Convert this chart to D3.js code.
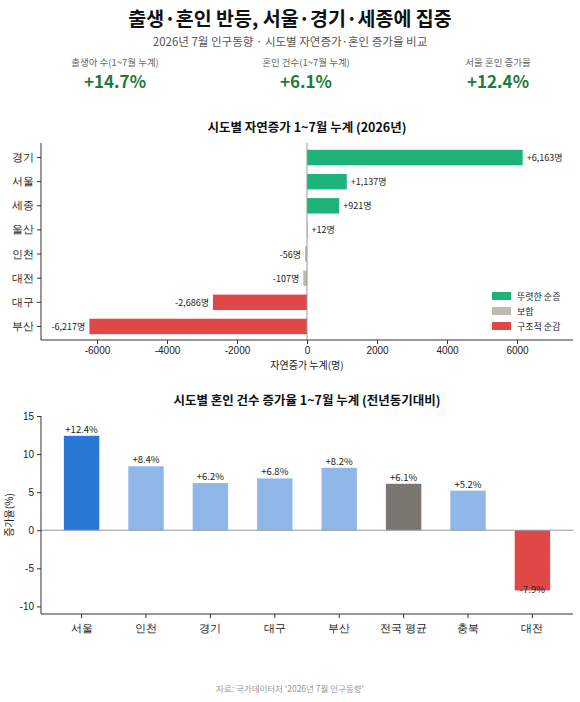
<!DOCTYPE html><html><head><meta charset="utf-8"><script src="https://cdn.jsdelivr.net/npm/d3@7"></script>
<style>body{margin:0;background:#fff;font-family:"Noto Sans CJK KR","Noto Sans",sans-serif}</style></head><body><svg id="c" width="580" height="702"></svg>
<script>
const regions1=["경기","서울","세종","울산","인천","대전","대구","부산"];
const natural=[6163,1137,921,12,-56,-107,-2686,-6217];
const natClass=["g","g","g","g","n","n","r","r"];
const natLabels=["+6,163명","+1,137명","+921명","+12명","-56명","-107명","-2,686명","-6,217명"];
const xTicks=[-6000,-4000,-2000,0,2000,4000,6000];
const regions2=["서울","인천","경기","대구","부산","전국 평균","충북","대전"];
const marriage=[12.4,8.4,6.2,6.8,8.2,6.1,5.2,-7.9];
const mClass=["s","l","l","l","l","a","l","d"];
const yTicks=[-10,-5,0,5,10,15];
const kpiLabels=["출생아 수(1~7월 누계)","혼인 건수(1~7월 누계)","서울 혼인 증가율"];
const kpiValues=["+14.7%","+6.1%","+12.4%"];
const legendItems=[["g","뚜렷한 순증"],["n","보합"],["r","구조적 순감"]];

const c1={g:"#1db37a",n:"#bdbab0",r:"#e04848"};
const c2={s:"#2a78d6",l:"#8fb8e8",a:"#7a7770",d:"#e04848"};
const svg=d3.select("#c");
const T=(x,y,s,t,o={})=>{const e=svg.append("text").attr("x",x).attr("y",y).attr("font-size",s).attr("text-anchor",o.a||"middle").attr("fill",o.c||"#222").attr("font-weight",o.w||400).text(t);return e;};
T(290,26,19.5,"출생·혼인 반등, 서울·경기·세종에 집중",{w:700,c:"#111"});
T(290,46,11.5,"2026년 7월 인구동향 · 시도별 자연증가·혼인 증가율 비교",{c:"#555"});
[115,306,498].forEach((x,i)=>{T(x,66,9.5,kpiLabels[i],{c:"#666"});T(x,88,17,kpiValues[i],{w:700,c:"#1e7a3c"});});

// chart 1
const x1=d3.scaleLinear().domain([-7600,7600]).range([41,573]);
const y1=d3.scaleBand().domain(regions1).range([145,339]).paddingInner(0.36).paddingOuter(0.2);
T(307,132,12.5,"시도별 자연증가 1~7월 누계 (2026년)",{w:700,c:"#111"});
const d1=regions1.map((r,i)=>({r,v:natural[i],c:natClass[i],l:natLabels[i]}));
svg.append("g").selectAll("rect").data(d1).join("rect").attr("x",d=>x1(Math.min(0,d.v))).attr("width",d=>Math.abs(x1(d.v)-x1(0))).attr("y",d=>y1(d.r)).attr("height",y1.bandwidth()).attr("fill",d=>c1[d.c]);
svg.append("line").attr("x1",x1(0)).attr("x2",x1(0)).attr("y1",143).attr("y2",340).attr("stroke","#999").attr("stroke-width",1);
svg.append("g").selectAll("text").data(d1).join("text").attr("x",d=>d.v>=0?x1(d.v)+4:x1(d.v)-4).attr("y",d=>y1(d.r)+y1.bandwidth()/2+3.5).attr("text-anchor",d=>d.v>=0?"start":"end").attr("font-size",9).attr("fill","#222").text(d=>d.l);
const ax1=svg.append("g").attr("transform","translate(0,340)").call(d3.axisBottom(x1).tickValues(xTicks).tickFormat(d=>String(d)).tickSize(4).tickSizeOuter(0));
const ay1=svg.append("g").attr("transform","translate(41,0)").call(d3.axisLeft(y1).tickSize(4).tickSizeOuter(0));
[ax1,ay1].forEach(a=>{a.selectAll("text").attr("font-size",10).attr("fill","#222").style("font-family","inherit");a.selectAll("path,line").attr("stroke","#333");});
ay1.selectAll("text").attr("font-size",11);
ay1.select(".domain").attr("d","M0,143V340");
ax1.select(".domain").attr("d","M41,0H573");
T(307,369,10,"자연증가 누계(명)");
legendItems.forEach((it,i)=>{const y=292+i*15;svg.append("rect").attr("x",492).attr("y",y).attr("width",19).attr("height",8).attr("fill",c1[it[0]]);T(517,y+8,9,it[1],{a:"start"});});

// chart 2
const x2=d3.scaleBand().domain(regions2).range([51,563]).paddingInner(0.45).paddingOuter(0.2);
const y2=d3.scaleLinear().domain([-11,15]).range([614,416]);
T(307,405,12.5,"시도별 혼인 건수 증가율 1~7월 누계 (전년동기대비)",{w:700,c:"#111"});
const d2=regions2.map((r,i)=>({r,v:marriage[i],c:mClass[i]}));
svg.append("g").selectAll("rect").data(d2).join("rect").attr("x",d=>x2(d.r)).attr("width",x2.bandwidth()).attr("y",d=>y2(Math.max(0,d.v))).attr("height",d=>Math.abs(y2(d.v)-y2(0))).attr("fill",d=>c2[d.c]);
svg.append("line").attr("x1",41).attr("x2",573).attr("y1",y2(0)).attr("y2",y2(0)).attr("stroke","#999");
svg.append("g").selectAll("text").data(d2).join("text").attr("x",d=>x2(d.r)+x2.bandwidth()/2).attr("y",d=>d.v>=0?y2(d.v)-3:y2(d.v)+3).attr("text-anchor","middle").attr("font-size",9.5).attr("fill","#222").text(d=>(d.v>0?"+":"")+d.v.toFixed(1)+"%");
const ax2=svg.append("g").attr("transform","translate(0,614)").call(d3.axisBottom(x2).tickSize(4).tickSizeOuter(0));
const ay2=svg.append("g").attr("transform","translate(41,0)").call(d3.axisLeft(y2).tickValues(yTicks).tickFormat(d=>String(d)).tickSize(4).tickSizeOuter(0));
[ax2,ay2].forEach(a=>{a.selectAll("text").attr("font-size",10).attr("fill","#222").style("font-family","inherit");a.selectAll("path,line").attr("stroke","#333");});
ax2.selectAll("text").attr("font-size",11).attr("dy","1em");
ax2.select(".domain").attr("d","M41,0H573");
ay2.select(".domain").attr("d","M0,416V614");
T(0,0,10,"증가율(%)").attr("transform","translate(13,515) rotate(-90)");
T(290,692,8.5,"자료: 국가데이터처 '2026년 7월 인구동향'",{c:"#999"});
</script></body></html>
